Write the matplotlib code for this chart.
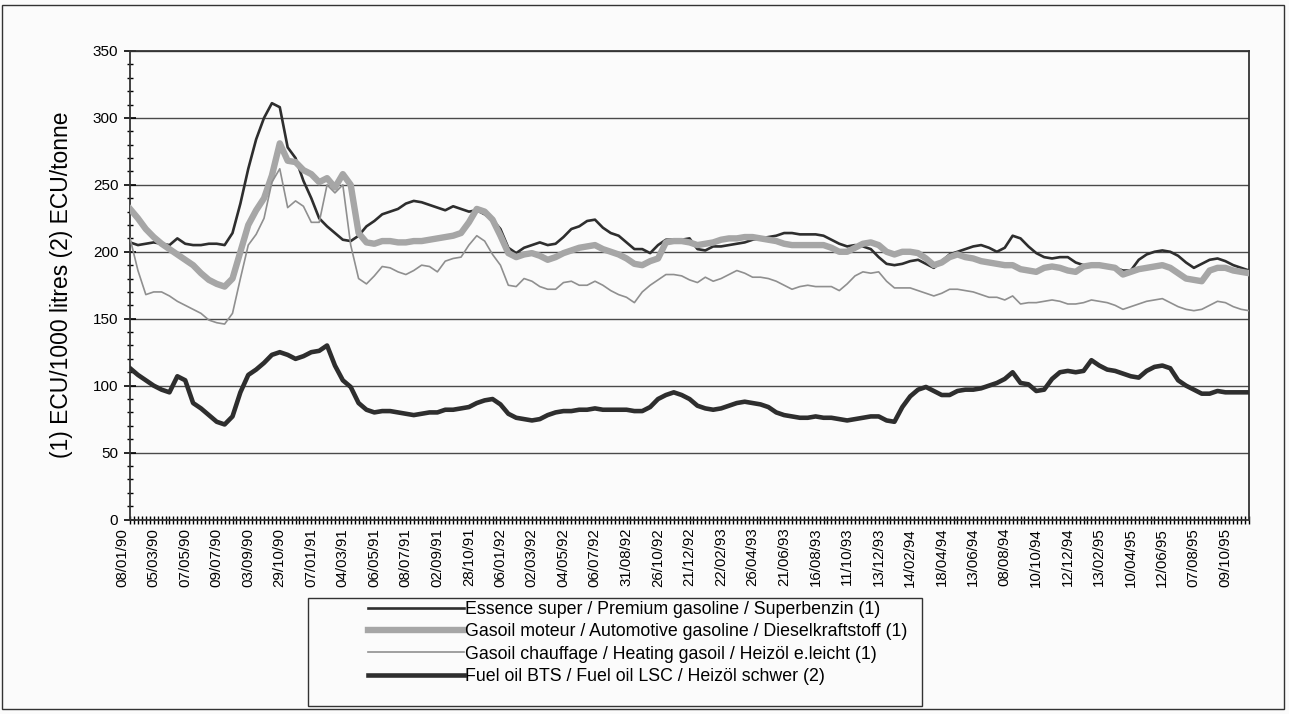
import matplotlib
matplotlib.use('Agg')
import matplotlib.pyplot as plt
import matplotlib.transforms as mtransforms
from matplotlib.patches import Rectangle
import numpy as np

plt.rcParams['font.family'] = ['Liberation Sans', 'DejaVu Sans']

# weekly quotations, one category per week; values read every 2nd week
n_weeks = 285
step = 2

tick_dates = ['08/01/90', '05/03/90', '07/05/90', '09/07/90', '03/09/90', '29/10/90',
              '07/01/91', '04/03/91', '06/05/91', '08/07/91', '02/09/91', '28/10/91',
              '06/01/92', '02/03/92', '04/05/92', '06/07/92', '31/08/92', '26/10/92',
              '21/12/92', '22/02/93', '26/04/93', '21/06/93', '16/08/93', '11/10/93',
              '13/12/93', '14/02/94', '18/04/94', '13/06/94', '08/08/94', '10/10/94',
              '12/12/94', '13/02/95', '10/04/95', '12/06/95', '07/08/95', '09/10/95']

essence = [207, 205, 206, 207, 206, 205, 210, 206, 205, 205, 206, 206, 205, 214, 236, 262, 284, 300, 311, 308, 278, 270, 253, 240, 225,
           219, 214, 209, 208, 212, 219, 223, 228, 230, 232, 236, 238, 237, 235, 233, 231, 234, 232, 230, 231, 228, 224, 217,
           203, 199, 203, 205, 207, 205, 206, 211, 217, 219, 223, 224, 218, 214, 212, 207, 202, 202, 199, 205, 209, 209, 209, 210,
           202, 201, 204, 204, 205, 206, 207, 209, 210, 211, 212, 214, 214, 213, 213, 213, 212, 209, 206, 204, 205, 204, 202,
           196, 191, 190, 191, 193, 194, 191, 188, 193, 198, 200, 202, 204, 205, 203, 200, 203, 212, 210, 204, 199, 196, 195, 196,
           196, 192, 190, 189, 189, 189, 188, 186, 186, 194, 198, 200, 201, 200, 197, 192, 188, 191, 194, 195, 193, 190, 188, 186]

gasoil_moteur = [232, 225, 217, 211, 206, 202, 198, 194, 190, 184, 179, 176, 174, 180, 200, 220, 231, 240, 257, 281, 268, 267, 261, 258, 252,
                 255, 248, 258, 250, 214, 207, 206, 208, 208, 207, 207, 208, 208, 209, 210, 211, 212, 214, 222, 232, 230, 224, 212,
                 199, 196, 198, 199, 197, 194, 196, 199, 201, 203, 204, 205, 202, 200, 198, 195, 191, 190, 193, 195, 207, 208, 208, 207,
                 205, 206, 207, 209, 210, 210, 211, 211, 210, 209, 208, 206, 205, 205, 205, 205, 205, 203, 200, 200, 203, 206, 207,
                 205, 200, 198, 200, 200, 199, 195, 190, 192, 196, 198, 196, 195, 193, 192, 191, 190, 190, 187, 186, 185, 188, 189, 188,
                 186, 185, 189, 190, 190, 189, 188, 183, 185, 187, 188, 189, 190, 188, 184, 180, 179, 178, 186, 188, 188, 186, 185, 184]

gasoil_chauffage = [210, 186, 168, 170, 170, 167, 163, 160, 157, 154, 149, 147, 146, 154, 180, 205, 213, 225, 252, 262, 233, 238, 234, 222, 222,
                    250, 244, 250, 205, 180, 176, 182, 189, 188, 185, 183, 186, 190, 189, 185, 193, 195, 196, 205, 212, 208, 198, 190,
                    175, 174, 180, 178, 174, 172, 172, 177, 178, 175, 175, 178, 175, 171, 168, 166, 162, 170, 175, 179, 183, 183, 182, 179,
                    177, 181, 178, 180, 183, 186, 184, 181, 181, 180, 178, 175, 172, 174, 175, 174, 174, 174, 171, 176, 182, 185, 184,
                    185, 178, 173, 173, 173, 171, 169, 167, 169, 172, 172, 171, 170, 168, 166, 166, 164, 167, 161, 162, 162, 163, 164, 163,
                    161, 161, 162, 164, 163, 162, 160, 157, 159, 161, 163, 164, 165, 162, 159, 157, 156, 157, 160, 163, 162, 159, 157, 156]

fuel_oil = [113, 108, 104, 100, 97, 95, 107, 104, 87, 83, 78, 73, 71, 77, 95, 108, 112, 117, 123, 125, 123, 120, 122, 125, 126,
            130, 115, 104, 99, 87, 82, 80, 81, 81, 80, 79, 78, 79, 80, 80, 82, 82, 83, 84, 87, 89, 90, 86,
            79, 76, 75, 74, 75, 78, 80, 81, 81, 82, 82, 83, 82, 82, 82, 82, 81, 81, 84, 90, 93, 95, 93, 90,
            85, 83, 82, 83, 85, 87, 88, 87, 86, 84, 80, 78, 77, 76, 76, 77, 76, 76, 75, 74, 75, 76, 77,
            77, 74, 73, 84, 92, 97, 99, 96, 93, 93, 96, 97, 97, 98, 100, 102, 105, 110, 102, 101, 96, 97, 105, 110,
            111, 110, 111, 119, 115, 112, 111, 109, 107, 106, 111, 114, 115, 113, 104, 100, 97, 94, 94, 96, 95, 95, 95, 95]

labels = ['Essence super / Premium gasoline / Superbenzin (1)',
          'Gasoil moteur / Automotive gasoline / Dieselkraftstoff (1)',
          'Gasoil chauffage / Heating gasoil / Heizöl e.leicht (1)',
          'Fuel oil BTS / Fuel oil LSC / Heizöl schwer (2)']

x = np.arange(0, n_weeks, step)

fig = plt.figure(figsize=(12.89, 7.14), dpi=100)
fig.patch.set_facecolor('#fbfbfb')
ax = fig.add_axes([0.1009, 0.2724, 0.8681, 0.6562])
ax.set_facecolor('#fbfbfb')

l1, = ax.plot(x, essence, color='#2e2e2e', lw=1.9, zorder=3)
l2, = ax.plot(x, gasoil_moteur, color='#a6a6a6', lw=4.6, zorder=3)
l3, = ax.plot(x, gasoil_chauffage, color='#8f8f8f', lw=1.2, zorder=3)
l4, = ax.plot(x, fuel_oil, color='#2e2e2e', lw=3.3, zorder=3)

ax.set_xlim(0, n_weeks - 1)
ax.set_ylim(0, 350)

"""y axis"""
ax.set_yticks(np.arange(0, 351, 50))
ax.set_yticks(np.arange(0, 351, 10), minor=True)
ax.yaxis.grid(True, which='major', color='#4a4a4a', lw=1.0)
ax.set_axisbelow(True)
ax.tick_params(axis='y', which='major', direction='inout', length=9, width=1.2, labelsize=11, pad=4)
ax.tick_params(axis='y', which='minor', direction='inout', length=5, width=1.0)
ax.set_ylabel('(1) ECU/1000 litres (2) ECU/tonne', fontsize=16.5, labelpad=14)

"""x axis: one tick per week, label every 8th"""
ax.set_xticks(np.arange(0, n_weeks, 8))
ax.set_xticks(np.arange(0, n_weeks, 1), minor=True)
ax.set_xticklabels(tick_dates, rotation=90, fontsize=10.8)
ax.tick_params(axis='x', which='both', direction='inout', length=6, width=1.0, pad=3)
offset = mtransforms.ScaledTranslation(-8 / 100., 0, fig.dpi_scale_trans)
for tl in ax.get_xticklabels():
    tl.set_transform(tl.get_transform() + offset)

for axis in ['top', 'bottom', 'left', 'right']:
    ax.spines[axis].set_linewidth(1.3)
    ax.spines[axis].set_color('#333333')

"""legend with its own frame"""
fig.legend([l1, l2, l3, l4], labels, loc='upper left',
           bbox_to_anchor=(368 / 1289., 1 - 601 / 714.), frameon=False,
           fontsize=12.8, handlelength=5.4, handletextpad=0.05, labelspacing=0.3,
           borderpad=0, borderaxespad=0)
fig.patches.append(Rectangle((308 / 1289., 1 - 706 / 714.), (922 - 308) / 1289., (706 - 598) / 714.,
                             transform=fig.transFigure, fill=False, lw=1.0, ec='#333333'))
# outer border of the whole chart
fig.patches.append(Rectangle((2 / 1289., 1 - 709 / 714.), 1282 / 1289., 704 / 714.,
                             transform=fig.transFigure, fill=False, lw=1.0, ec='#333333'))

fig.savefig('out.png', dpi=100, facecolor=fig.get_facecolor())
